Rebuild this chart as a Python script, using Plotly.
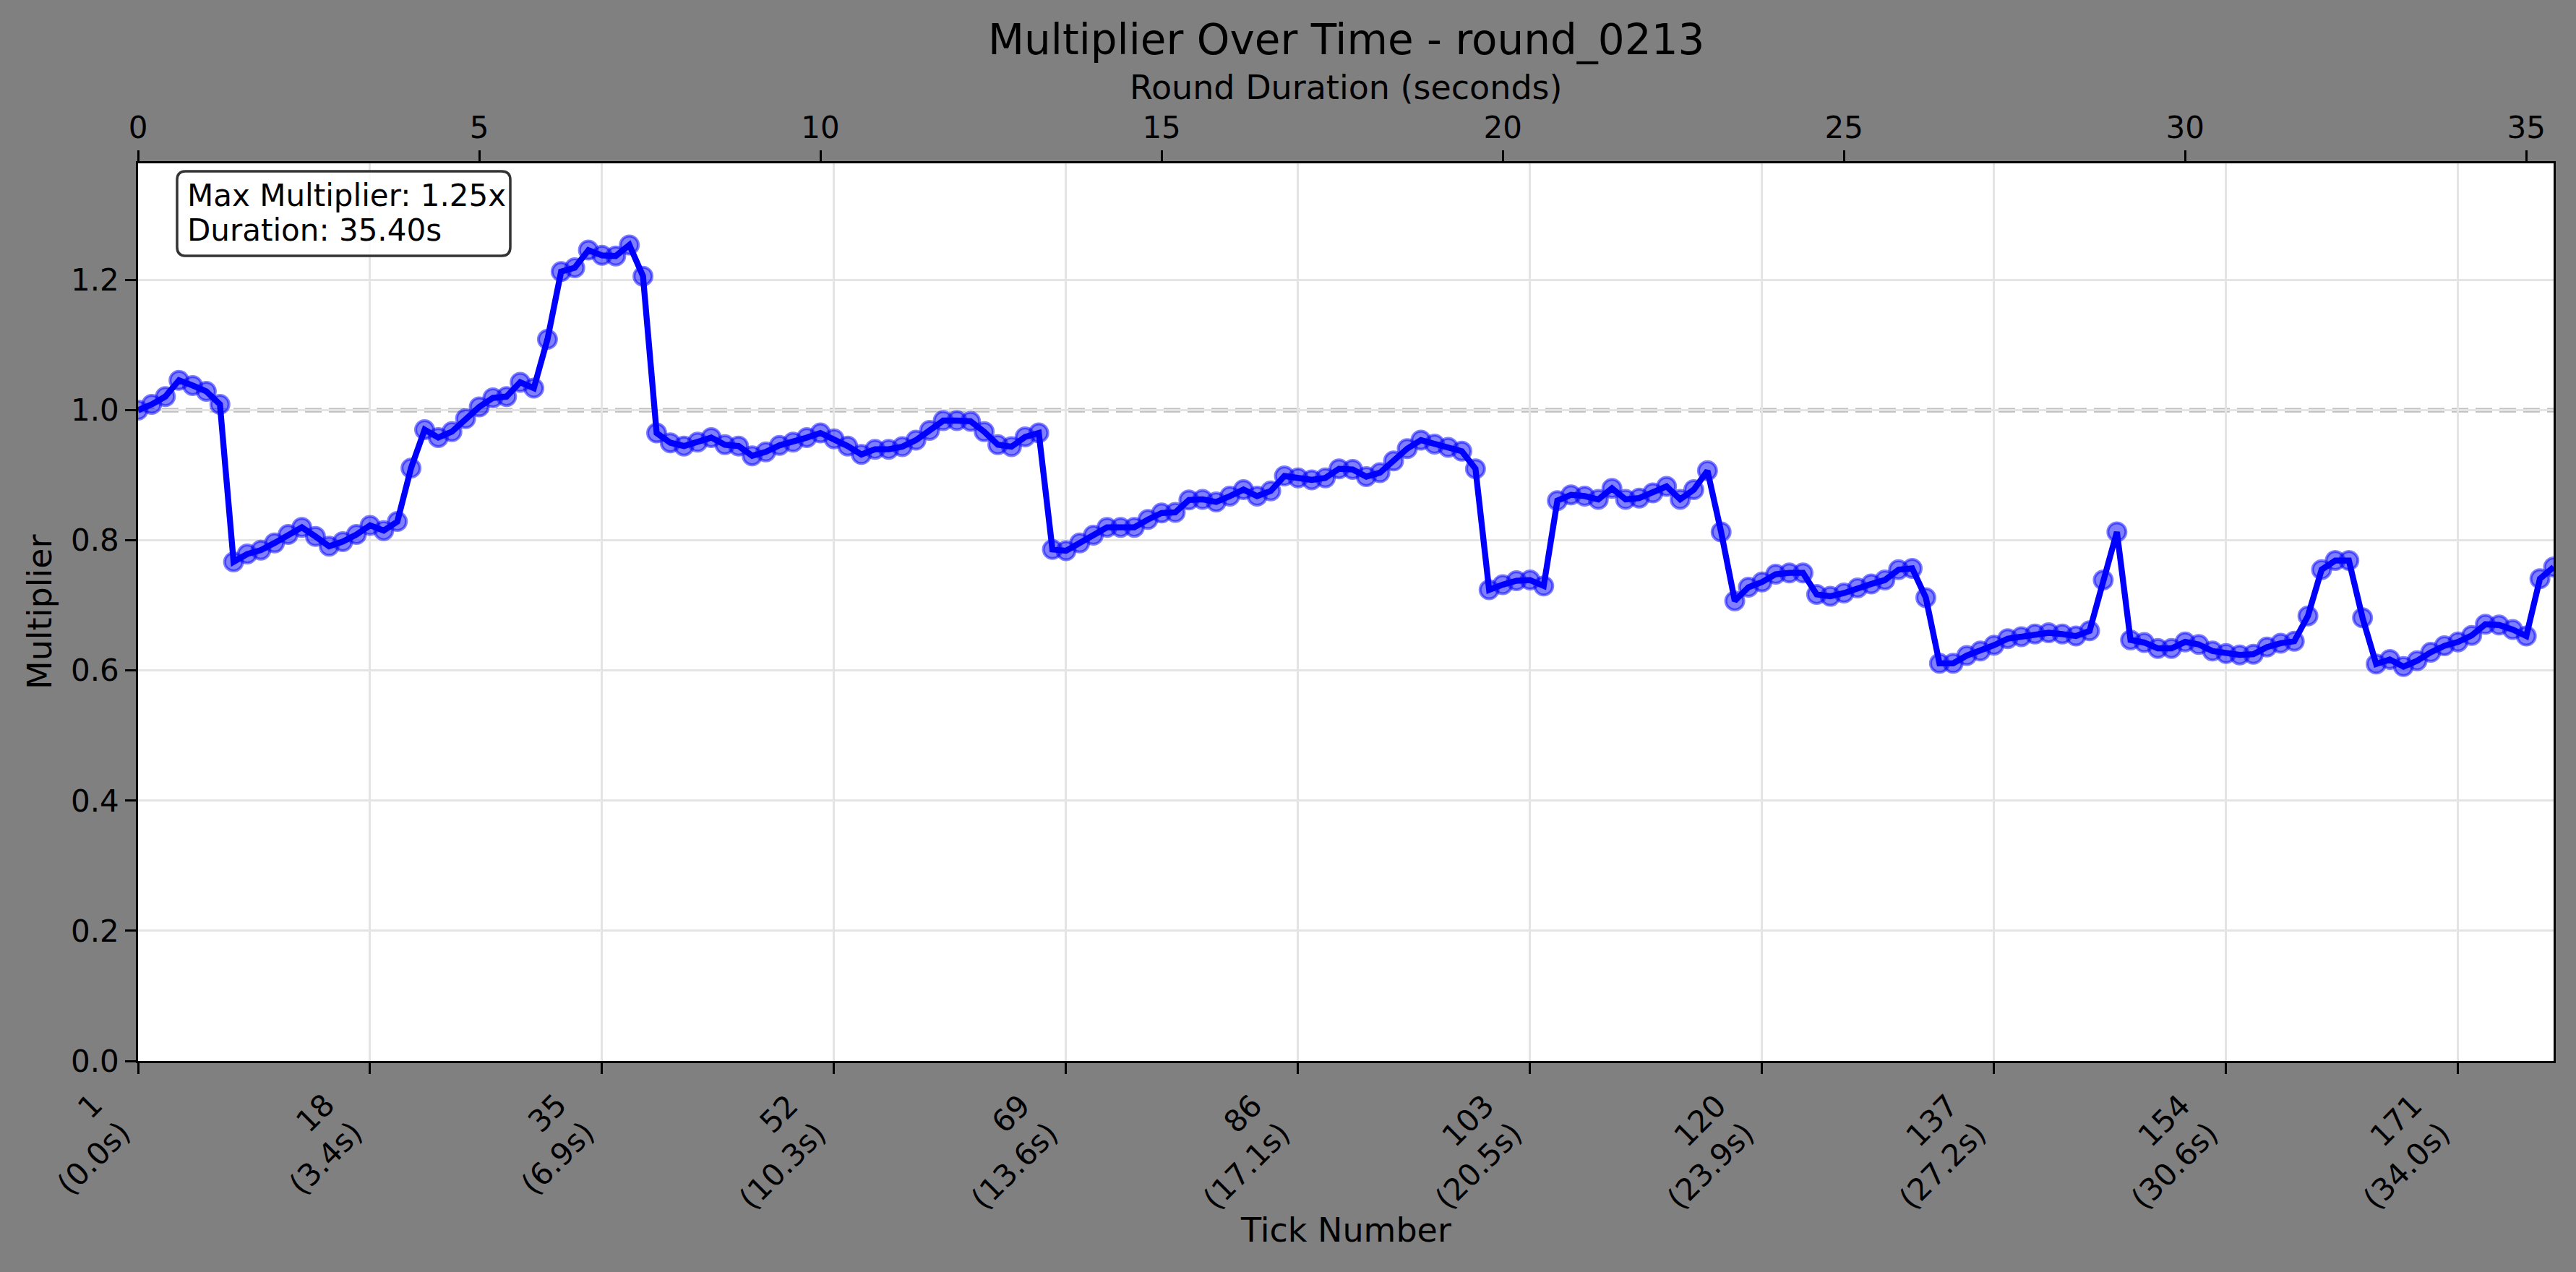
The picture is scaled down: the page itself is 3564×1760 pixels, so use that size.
import plotly.graph_objects as go

# ---- data ----
ticks = list(range(1, 179))
multiplier = [
    1.000, 1.009, 1.021, 1.046, 1.038, 1.029, 1.009, 0.767, 0.779, 0.785,
    0.796, 0.809, 0.820, 0.806, 0.791, 0.798, 0.809, 0.823, 0.815, 0.829,
    0.911, 0.970, 0.958, 0.967, 0.987, 1.005, 1.019, 1.021, 1.043, 1.034,
    1.109, 1.213, 1.219, 1.246, 1.238, 1.237, 1.254, 1.206, 0.965, 0.950,
    0.945, 0.951, 0.958, 0.947, 0.945, 0.930, 0.936, 0.946, 0.951, 0.958,
    0.965, 0.956, 0.945, 0.932, 0.940, 0.940, 0.944, 0.954, 0.969, 0.984,
    0.984, 0.983, 0.967, 0.947, 0.944, 0.959, 0.965, 0.786, 0.784, 0.796,
    0.808, 0.820, 0.820, 0.820, 0.832, 0.842, 0.843, 0.862, 0.863, 0.859,
    0.868, 0.878, 0.868, 0.876, 0.899, 0.896, 0.893, 0.896, 0.910, 0.909,
    0.898, 0.904, 0.922, 0.941, 0.954, 0.948, 0.943, 0.937, 0.910, 0.724,
    0.732, 0.738, 0.739, 0.730, 0.861, 0.870, 0.868, 0.863, 0.880, 0.863,
    0.865, 0.873, 0.883, 0.863, 0.878, 0.907, 0.813, 0.707, 0.728, 0.736,
    0.748, 0.750, 0.750, 0.717, 0.714, 0.719, 0.727, 0.733, 0.739, 0.755,
    0.757, 0.712, 0.611, 0.611, 0.623, 0.630, 0.639, 0.649, 0.652, 0.656,
    0.658, 0.656, 0.653, 0.661, 0.739, 0.813, 0.647, 0.643, 0.634, 0.634,
    0.644, 0.640, 0.630, 0.626, 0.624, 0.625, 0.636, 0.642, 0.645, 0.684,
    0.755, 0.769, 0.769, 0.681, 0.610, 0.617, 0.606, 0.615, 0.628, 0.638,
    0.644, 0.654, 0.671, 0.670, 0.663, 0.653, 0.741, 0.759,
]
tick_positions = [1, 18, 35, 52, 69, 86, 103, 120, 137, 154, 171]
tick_times = ["0.0s", "3.4s", "6.9s", "10.3s", "13.6s", "17.1s", "20.5s",
              "23.9s", "27.2s", "30.6s", "34.0s"]
duration = 35.40
seconds_ticks = [0, 5, 10, 15, 20, 25, 30, 35]
y_ticks = [0.0, 0.2, 0.4, 0.6, 0.8, 1.0, 1.2]
round_name = "round_0213"

max_mult = max(multiplier)
tick_text = [f"{p}<br>({t})" for p, t in zip(tick_positions, tick_times)]

FONT = "DejaVu Sans"
W, H = 3564, 1760
L, R, T, B = 191, 31, 226, 292
PH = H - T - B
PW = W - L - R


def py(pix):
    return (H - B - pix) / PH


def px(pix):
    return (pix - L) / PW


fig = go.Figure()

fig.add_trace(go.Scatter(
    x=ticks, y=multiplier, mode="markers",
    marker=dict(size=25, color="rgba(0,0,255,0.5)",
                line=dict(color="rgba(0,0,255,0.5)", width=4)),
    showlegend=False, hoverinfo="skip",
))
fig.add_trace(go.Scatter(
    x=ticks, y=multiplier, mode="lines",
    line=dict(color="#0000ff", width=8.3),
    showlegend=False,
))
# invisible trace for the top (seconds) axis
fig.add_trace(go.Scatter(
    x=[0, duration], y=[None, None], xaxis="x2", yaxis="y",
    mode="lines", showlegend=False, hoverinfo="skip",
))

fig.add_shape(type="line", xref="paper", yref="y", x0=0, x1=1, y0=1.0, y1=1.0,
              line=dict(color="rgba(128,128,128,0.5)", width=6.25, dash="23px,10px"),
              layer="below")

# rounded info box (pixel geometry converted to paper units)
bx0, bx1, by0, by1, rad = 245, 706, 237, 354, 12
rx, ry = rad / PW, rad / PH
X0, X1, Y0, Y1 = px(bx0), px(bx1), py(by1), py(by0)
path = (f"M {X0+rx},{Y0} L {X1-rx},{Y0} Q {X1},{Y0} {X1},{Y0+ry} "
        f"L {X1},{Y1-ry} Q {X1},{Y1} {X1-rx},{Y1} "
        f"L {X0+rx},{Y1} Q {X0},{Y1} {X0},{Y1-ry} "
        f"L {X0},{Y0+ry} Q {X0},{Y0} {X0+rx},{Y0} Z")
fig.add_shape(type="path", path=path, xref="paper", yref="paper",
              fillcolor="rgba(255,255,255,0.8)", line=dict(color="#333333", width=3.5),
              layer="above")

axis_common = dict(
    showline=True, linecolor="black", linewidth=3.3,
    ticks="outside", ticklen=14.6, tickwidth=3.3, tickcolor="black",
    tickfont=dict(family=FONT, size=42, color="black"),
    zeroline=False,
)

fig.update_layout(
    width=W, height=H,
    margin=dict(l=L, r=R, t=T, b=B),
    paper_bgcolor="#808080", plot_bgcolor="white",
    font=dict(family=FONT, color="black"),
    xaxis=dict(
        range=[1, 178], tickmode="array", tickvals=tick_positions,
        showticklabels=False, showgrid=True, gridcolor="#e4e4e4", gridwidth=3.3,
        mirror=True, **axis_common,
    ),
    xaxis2=dict(
        range=[0, duration], overlaying="x", side="top", anchor="y",
        tickmode="array", tickvals=seconds_ticks,
        ticktext=[str(s) for s in seconds_ticks],
        showgrid=False, **axis_common,
    ),
    yaxis=dict(
        range=[0, max_mult * 1.1], tickmode="array", tickvals=y_ticks,
        ticktext=[f"{v:.1f}" for v in y_ticks],
        showgrid=True, gridcolor="#e4e4e4", gridwidth=3.3,
        mirror=True, **axis_common,
    ),
)

# rotated bottom tick labels (block right edge aligned at the tick, like matplotlib ha='right')
for pos, txt in zip(tick_positions, tick_text):
    fig.add_annotation(text=txt, xref="x", yref="paper", x=pos, y=py(1503),
                       xanchor="right", yanchor="top", align="right", textangle=-45,
                       showarrow=False, borderpad=0,
                       font=dict(family=FONT, size=42, color="black"))

fig.add_annotation(text=f"Multiplier Over Time - {round_name}", xref="paper", yref="paper",
                   x=0.5, y=py(55), xanchor="center", yanchor="middle", showarrow=False,
                   font=dict(family=FONT, size=58, color="black"))
fig.add_annotation(text="Round Duration (seconds)", xref="paper", yref="paper",
                   x=0.5, y=py(121), xanchor="center", yanchor="middle", showarrow=False,
                   font=dict(family=FONT, size=46, color="black"))
fig.add_annotation(text="Tick Number", xref="paper", yref="paper",
                   x=0.5, y=py(1702), xanchor="center", yanchor="middle", showarrow=False,
                   font=dict(family=FONT, size=46, color="black"))
fig.add_annotation(text="Multiplier", xref="paper", yref="paper",
                   x=px(55), y=0.5, xanchor="center", yanchor="middle", textangle=-90,
                   showarrow=False, font=dict(family=FONT, size=46, color="black"))

info_lines = [f"Max Multiplier: {max_mult:.2f}x", f"Duration: {duration:.2f}s"]
for i, line in enumerate(info_lines):
    fig.add_annotation(text=line, xref="paper", yref="paper",
                       x=px(257), y=py(270 + 48 * i), xanchor="left", yanchor="middle",
                       align="left", showarrow=False,
                       font=dict(family=FONT, size=42, color="black"))

fig.write_html("out.html",
               config={"displayModeBar": False},
               post_script="document.body.style.margin='0';"
                           "document.body.style.background='#808080';")
